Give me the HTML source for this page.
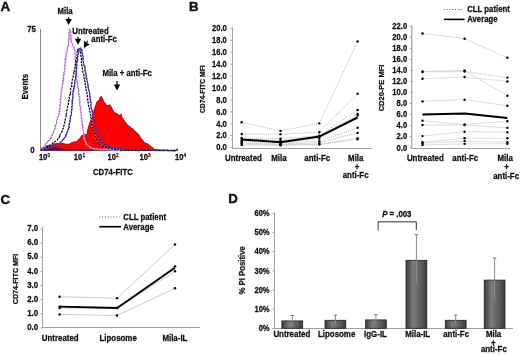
<!DOCTYPE html>
<html><head><meta charset="utf-8"><style>
html,body{margin:0;padding:0;background:#fff;}
svg{display:block;font-family:"Liberation Sans", sans-serif;will-change:transform;}
</style></head><body>
<svg width="520" height="355" viewBox="0 0 520 355">
<rect width="520" height="355" fill="#fff"/>
<text transform="translate(0.50,10.50) scale(1,1.0)" x="0" y="0" font-size="13.4" text-anchor="start" font-weight="bold" fill="#111" stroke="#111" stroke-width="0.25" style="stroke-width:0.45">A</text>
<line x1="40.50" y1="29.00" x2="40.50" y2="151.00" stroke="#8a8a8a" stroke-width="1" />
<text transform="translate(35.80,32.00) scale(1,1.1)" x="0" y="0" font-size="7.8" text-anchor="end" font-weight="bold" fill="#111" stroke="#111" stroke-width="0.25" >75</text>
<text transform="translate(34.50,153.00) scale(1,1.1)" x="0" y="0" font-size="7.8" text-anchor="end" font-weight="bold" fill="#111" stroke="#111" stroke-width="0.25" >0</text>
<text transform="translate(28.30,86.70) rotate(-90) scale(1,1.06)" x="0" y="0" font-size="7.8" text-anchor="middle" font-weight="bold" fill="#111" stroke="#111" stroke-width="0.25">Events</text>
<text transform="translate(38.90,159.70) scale(1,1.1)" x="0" y="0" font-size="7.6" text-anchor="start" font-weight="bold" fill="#111" stroke="#111" stroke-width="0.25" >10</text>
<text transform="translate(47.50,157.00) scale(1,1.1)" x="0" y="0" font-size="4.8" text-anchor="start" font-weight="normal" fill="#111" stroke="#111" stroke-width="0.25" >0</text>
<text transform="translate(73.80,159.70) scale(1,1.1)" x="0" y="0" font-size="7.6" text-anchor="start" font-weight="bold" fill="#111" stroke="#111" stroke-width="0.25" >10</text>
<text transform="translate(82.40,157.00) scale(1,1.1)" x="0" y="0" font-size="4.8" text-anchor="start" font-weight="normal" fill="#111" stroke="#111" stroke-width="0.25" >1</text>
<text transform="translate(107.50,159.70) scale(1,1.1)" x="0" y="0" font-size="7.6" text-anchor="start" font-weight="bold" fill="#111" stroke="#111" stroke-width="0.25" >10</text>
<text transform="translate(116.10,157.00) scale(1,1.1)" x="0" y="0" font-size="4.8" text-anchor="start" font-weight="normal" fill="#111" stroke="#111" stroke-width="0.25" >2</text>
<text transform="translate(139.50,159.70) scale(1,1.1)" x="0" y="0" font-size="7.6" text-anchor="start" font-weight="bold" fill="#111" stroke="#111" stroke-width="0.25" >10</text>
<text transform="translate(148.10,157.00) scale(1,1.1)" x="0" y="0" font-size="4.8" text-anchor="start" font-weight="normal" fill="#111" stroke="#111" stroke-width="0.25" >3</text>
<text transform="translate(175.00,159.70) scale(1,1.1)" x="0" y="0" font-size="7.6" text-anchor="start" font-weight="bold" fill="#111" stroke="#111" stroke-width="0.25" >10</text>
<text transform="translate(183.60,157.00) scale(1,1.1)" x="0" y="0" font-size="4.8" text-anchor="start" font-weight="normal" fill="#111" stroke="#111" stroke-width="0.25" >4</text>
<text transform="translate(93.00,174.50) scale(1,1.1)" x="0" y="0" font-size="7.8" text-anchor="start" font-weight="bold" fill="#111" stroke="#111" stroke-width="0.25" >CD74-FITC</text>
<path d="M40.6,150.8 L40.34,150.74 L41.06,149.79 L41.16,149.38 L41.55,149.08 L41.44,148.01 L42.24,147.75 L42.76,147.17 L43.10,147.38 L43.52,147.25 L44.57,146.33 L44.52,146.40 L45.74,146.00 L45.80,145.75 L46.34,145.44 L47.29,145.46 L47.81,145.11 L48.47,145.11 L49.19,144.63 L50.24,144.84 L50.75,144.41 L51.64,144.70 L51.68,144.16 L52.76,144.25 L53.56,143.87 L54.13,143.87 L54.41,143.64 L55.47,143.64 L55.80,143.49 L56.07,143.27 L57.21,143.42 L57.37,143.53 L58.34,143.65 L58.71,143.51 L59.41,143.77 L60.01,143.53 L60.69,143.17 L61.08,143.54 L62.44,143.37 L62.73,142.97 L63.53,143.80 L64.46,143.76 L65.25,143.81 L65.73,144.39 L66.50,144.12 L67.01,144.26 L68.22,143.95 L68.80,144.26 L69.57,143.94 L70.22,143.51 L70.64,143.21 L70.89,143.28 L71.85,142.57 L72.40,142.53 L72.90,142.19 L73.63,142.23 L74.28,141.95 L74.47,141.63 L75.17,141.72 L76.25,141.71 L76.87,141.35 L77.16,141.01 L78.12,140.11 L78.16,139.59 L79.18,139.27 L79.23,139.06 L79.89,138.20 L80.08,138.00 L80.40,137.31 L81.10,136.92 L81.14,136.41 L81.25,135.84 L81.84,135.18 L82.26,135.45 L83.17,134.73 L83.87,134.92 L84.08,134.24 L84.79,134.61 L85.42,134.48 L86.40,134.25 L86.70,134.43 L87.23,133.45 L86.96,132.88 L87.20,132.17 L87.27,131.54 L87.22,130.65 L87.98,130.39 L87.64,129.71 L87.77,129.11 L88.25,128.11 L88.09,127.19 L88.72,126.58 L88.86,126.59 L88.87,125.40 L89.26,125.33 L89.36,124.43 L89.34,123.75 L89.44,123.41 L89.81,122.50 L89.79,122.26 L90.14,121.57 L90.38,121.26 L91.01,120.09 L90.75,119.74 L91.53,119.48 L91.30,118.51 L91.76,118.38 L92.17,117.46 L92.37,117.13 L92.26,116.71 L92.26,115.91 L92.33,114.89 L93.09,114.30 L93.16,113.95 L93.39,113.16 L93.21,112.48 L93.76,112.07 L94.01,111.65 L93.62,110.79 L93.79,109.80 L93.95,109.76 L94.64,109.10 L94.51,108.33 L95.01,107.54 L95.05,106.81 L94.92,106.25 L95.71,105.88 L95.95,105.22 L95.71,104.87 L96.31,103.74 L96.42,103.21 L96.33,103.24 L96.58,102.27 L97.54,101.87 L97.23,101.17 L97.79,101.10 L98.17,100.74 L98.84,100.30 L99.69,99.36 L99.59,98.82 L99.85,98.27 L100.18,97.16 L101.24,96.76 L101.37,96.26 L101.47,96.73 L102.19,98.10 L102.53,98.23 L102.33,99.12 L103.20,99.60 L103.33,100.21 L103.36,100.78 L103.72,101.22 L103.88,101.90 L104.84,102.66 L104.99,103.30 L105.57,103.62 L105.50,104.08 L105.89,104.94 L106.68,105.06 L106.93,105.53 L107.76,105.87 L108.17,105.31 L108.82,105.20 L109.64,104.75 L109.90,104.69 L110.32,105.44 L110.73,106.12 L110.76,106.50 L111.48,106.83 L111.86,107.52 L112.02,108.71 L112.33,108.87 L112.14,109.54 L113.03,109.92 L113.33,110.35 L113.65,110.81 L113.55,111.95 L114.21,112.49 L114.86,112.70 L115.38,112.62 L115.83,112.94 L116.65,113.62 L116.99,113.60 L118.16,114.52 L118.53,114.73 L119.41,115.10 L119.76,115.45 L120.33,115.67 L120.84,115.28 L121.02,114.36 L121.10,113.75 L121.09,114.53 L121.73,115.33 L121.58,116.18 L121.61,116.46 L122.16,117.31 L122.59,117.79 L122.96,118.50 L122.99,118.85 L123.50,119.18 L123.80,119.93 L124.48,120.69 L124.40,121.02 L124.60,121.14 L125.29,122.22 L125.40,122.67 L126.27,122.87 L126.53,123.74 L126.71,124.14 L127.37,124.57 L127.85,125.28 L128.32,125.55 L128.32,125.68 L128.89,126.26 L129.81,126.26 L130.30,127.08 L130.61,127.30 L131.02,127.80 L131.48,128.34 L132.49,128.56 L132.59,129.24 L133.55,129.17 L133.89,130.14 L134.29,130.52 L134.61,131.15 L135.45,131.24 L135.81,131.75 L135.88,132.11 L136.37,132.95 L137.47,132.83 L137.74,133.47 L137.92,133.82 L138.52,134.57 L138.68,134.76 L139.31,135.21 L139.76,136.20 L140.23,136.49 L140.25,137.29 L140.64,137.88 L141.03,138.51 L141.80,139.16 L142.33,139.53 L142.45,140.23 L143.11,140.51 L143.30,140.79 L143.57,141.64 L144.03,142.07 L144.88,142.63 L145.58,143.03 L145.70,143.10 L146.55,143.37 L147.05,143.65 L147.62,143.65 L148.11,144.21 L148.56,144.43 L149.36,145.03 L149.61,145.40 L149.99,145.49 L150.19,145.94 L151.07,146.77 L151.73,146.88 L152.34,147.22 L152.73,147.56 L153.17,148.34 L153.36,148.27 L154.08,149.02 L154.40,149.15 L154.92,149.95 L156.00,150.50 L156,150.8 Z" fill="#ff0000" stroke="none"/>
<polyline points="52.76,144.25 53.56,143.87 54.13,143.87 54.41,143.64 55.47,143.64 55.80,143.49 56.07,143.27 57.21,143.42 57.37,143.53 58.34,143.65 58.71,143.51 59.41,143.77 60.01,143.53 60.69,143.17 61.08,143.54 62.44,143.37 62.73,142.97 63.53,143.80 64.46,143.76 65.25,143.81 65.73,144.39 66.50,144.12 67.01,144.26 68.22,143.95 68.80,144.26 69.57,143.94 70.22,143.51 70.64,143.21 70.89,143.28 71.85,142.57 72.40,142.53 72.90,142.19 73.63,142.23 74.28,141.95 74.47,141.63 75.17,141.72 76.25,141.71 76.87,141.35 77.16,141.01 78.12,140.11 78.16,139.59 79.18,139.27 79.23,139.06 79.89,138.20 80.08,138.00 80.40,137.31 81.10,136.92 81.14,136.41 81.25,135.84 81.84,135.18 82.26,135.45 83.17,134.73 83.87,134.92 84.08,134.24 84.79,134.61 85.42,134.48 86.40,134.25 86.70,134.43 87.23,133.45 86.96,132.88 87.20,132.17 87.27,131.54 87.22,130.65 87.98,130.39 87.64,129.71 87.77,129.11 88.25,128.11 88.09,127.19 88.72,126.58 88.86,126.59 88.87,125.40 89.26,125.33 89.36,124.43 89.34,123.75 89.44,123.41 89.81,122.50 89.79,122.26 90.14,121.57 90.38,121.26 91.01,120.09 90.75,119.74 91.53,119.48 91.30,118.51 91.76,118.38 92.17,117.46 92.37,117.13 92.26,116.71 92.26,115.91 92.33,114.89 93.09,114.30 93.16,113.95 93.39,113.16 93.21,112.48 93.76,112.07 94.01,111.65 93.62,110.79 93.79,109.80 93.95,109.76 94.64,109.10 94.51,108.33 95.01,107.54 95.05,106.81 94.92,106.25 95.71,105.88 95.95,105.22 95.71,104.87 96.31,103.74 96.42,103.21 96.33,103.24 96.58,102.27 97.54,101.87 97.23,101.17 97.79,101.10 98.17,100.74 98.84,100.30 99.69,99.36 99.59,98.82 99.85,98.27 100.18,97.16 101.24,96.76 101.37,96.26 101.47,96.73 102.19,98.10 102.53,98.23 102.33,99.12 103.20,99.60 103.33,100.21 103.36,100.78 103.72,101.22 103.88,101.90 104.84,102.66 104.99,103.30 105.57,103.62 105.50,104.08 105.89,104.94 106.68,105.06 106.93,105.53 107.76,105.87 108.17,105.31 108.82,105.20 109.64,104.75 109.90,104.69 110.32,105.44 110.73,106.12 110.76,106.50 111.48,106.83 111.86,107.52 112.02,108.71 112.33,108.87 112.14,109.54 113.03,109.92 113.33,110.35 113.65,110.81 113.55,111.95 114.21,112.49 114.86,112.70 115.38,112.62 115.83,112.94 116.65,113.62 116.99,113.60 118.16,114.52 118.53,114.73 119.41,115.10 119.76,115.45 120.33,115.67 120.84,115.28 121.02,114.36 121.10,113.75 121.09,114.53 121.73,115.33 121.58,116.18 121.61,116.46 122.16,117.31 122.59,117.79 122.96,118.50 122.99,118.85 123.50,119.18 123.80,119.93 124.48,120.69 124.40,121.02 124.60,121.14 125.29,122.22 125.40,122.67 126.27,122.87 126.53,123.74 126.71,124.14 127.37,124.57 127.85,125.28 128.32,125.55 128.32,125.68 128.89,126.26 129.81,126.26 130.30,127.08 130.61,127.30 131.02,127.80 131.48,128.34 132.49,128.56 132.59,129.24 133.55,129.17 133.89,130.14 134.29,130.52 134.61,131.15 135.45,131.24 135.81,131.75 135.88,132.11 136.37,132.95 137.47,132.83 137.74,133.47 137.92,133.82 138.52,134.57 138.68,134.76 139.31,135.21 139.76,136.20 140.23,136.49 140.25,137.29 140.64,137.88 141.03,138.51 141.80,139.16 142.33,139.53 142.45,140.23 143.11,140.51 143.30,140.79 143.57,141.64 144.03,142.07 144.88,142.63 145.58,143.03 145.70,143.10 146.55,143.37 147.05,143.65 147.62,143.65 148.11,144.21 148.56,144.43 149.36,145.03 149.61,145.40 149.99,145.49 150.19,145.94 151.07,146.77 151.73,146.88 152.34,147.22 152.73,147.56 153.17,148.34 153.36,148.27 154.08,149.02 154.40,149.15 154.92,149.95 156.00,150.50" stroke="#500000" stroke-width="0.7" fill="none" />
<path d="M40.5,150.8 L41.5,148 L44,146.6 L47,145.8 L50,145.6 L53,146.2 L56,147 L60,148.2 L66,149 L75,149.3 L90,149.6 L120,150 L150,150.2 L150,150.8 Z" fill="#3a1050" opacity="0.85"/>
<polyline points="42.36,150.66 42.02,149.37 43.01,149.29 43.25,148.35 43.56,147.99 43.91,147.03 44.16,146.61 44.77,146.50 45.32,145.54 45.29,144.71 45.33,143.92 46.14,143.57 46.53,143.45 47.11,142.60 47.34,141.59 47.88,141.10 48.49,141.21 49.09,139.97 49.72,139.88 50.06,139.39 50.55,138.71 50.68,138.28 51.46,136.94 51.59,136.70 51.65,135.87 51.96,135.50 52.26,134.74 52.44,134.10 53.17,133.08 53.19,132.76 53.61,131.73 53.50,130.91 54.18,130.10 54.63,129.50 54.93,128.85 55.17,128.45 55.00,127.59 55.32,126.93 55.25,125.92 55.61,125.78 55.90,124.39 56.26,124.19 56.53,123.05 56.60,122.23 56.72,121.69 56.58,121.46 56.69,120.47 57.48,119.53 57.17,119.33 57.54,118.49 57.43,117.49 57.89,117.09 58.17,116.66 58.47,115.83 58.82,114.80 59.51,114.03 59.07,113.75 59.30,112.53 59.85,111.92 59.15,111.38 59.67,110.99 59.34,109.97 59.33,109.36 59.99,108.89 60.16,108.20 60.19,107.46 59.95,106.38 60.17,105.74 59.79,105.14 60.48,104.18 60.32,103.69 60.33,102.79 60.76,102.17 60.54,101.60 60.14,101.00 60.31,99.90 60.30,99.27 60.42,98.95 60.82,98.52 61.23,97.83 60.74,96.68 60.82,96.09 61.19,95.56 61.33,94.42 61.17,93.93 60.90,92.83 61.33,92.18 61.69,91.58 61.29,90.83 61.51,90.15 61.84,89.65 61.78,89.08 61.80,88.59 62.51,87.74 62.19,86.86 62.41,85.79 62.39,85.47 62.30,84.42 62.91,83.93 62.79,83.67 62.96,82.46 63.37,81.82 62.70,81.36 62.87,80.35 63.57,79.94 63.01,79.06 63.41,78.39 63.34,77.77 63.31,76.83 63.64,76.65 63.48,75.80 63.66,74.96 63.91,74.17 64.28,73.42 63.86,72.50 63.91,72.38 64.44,71.77 64.57,70.32 64.63,70.22 64.72,69.28 64.47,68.54 64.87,67.67 64.69,67.12 65.08,66.67 65.10,65.98 64.64,64.79 64.94,63.81 65.04,63.14 65.53,62.34 65.55,61.22 65.28,61.22 65.22,60.02 65.25,59.03 66.02,59.03 65.92,57.61 65.74,56.97 66.14,56.60 66.05,55.75 65.89,55.03 66.69,54.44 66.14,53.48 66.77,52.51 67.05,51.90 67.03,51.09 67.40,50.63 67.23,49.38 67.29,48.56 67.58,48.51 67.41,47.47 67.82,46.66 68.17,46.35 68.26,45.23 68.57,44.36 68.50,43.88 68.61,43.28 68.28,42.35 68.52,41.63 69.08,40.86 68.41,39.97 69.01,39.61 69.00,38.85 68.53,38.25 69.14,37.29 69.32,36.81 68.72,36.05 69.29,34.86 69.32,34.47 68.91,33.94 68.91,33.09 69.25,32.08 69.45,31.52 69.26,31.20 69.26,29.70 70.59,30.37 70.76,31.04 70.66,31.71 70.58,32.13 70.75,32.67 70.45,33.99 70.56,34.73 71.09,35.19 71.04,36.23 71.25,36.49 70.74,37.48 71.04,38.19 70.74,39.19 71.56,39.82 71.27,40.62 71.25,41.80 71.39,42.42 71.77,43.13 72.35,43.56 72.52,44.54 72.62,45.74 73.12,46.18 73.77,46.71 74.11,47.71 74.19,48.78 74.57,49.30 74.35,49.69 74.63,50.39 74.66,51.67 74.69,52.25 74.95,52.68 74.95,53.23 75.12,54.08 75.15,54.97 75.57,56.25 75.25,56.81 75.67,57.26 75.02,57.89 75.12,58.94 75.29,59.38 75.65,59.99 75.68,61.01 75.38,61.86 75.35,62.60 75.84,63.00 75.73,64.12 75.85,64.72 76.04,65.63 76.02,66.42 75.73,66.90 76.09,67.42 75.92,67.99 76.42,68.85 76.09,70.01 75.91,70.79 75.92,70.76 76.15,71.75 76.66,72.89 76.59,73.26 76.46,73.82 76.75,74.67 76.36,75.59 76.31,76.06 76.98,76.61 76.41,77.42 76.55,78.31 76.60,78.97 76.70,79.60 77.10,80.38 77.01,81.43 76.87,81.64 77.61,82.57 77.65,83.04 77.55,84.31 77.51,84.95 77.83,85.36 78.25,86.06 77.93,86.95 77.91,87.83 78.24,88.34 78.30,89.36 78.77,89.95 78.44,90.31 78.60,90.72 78.38,92.19 78.50,92.84 79.04,93.53 78.63,93.75 79.28,94.22 78.79,95.20 78.92,95.74 79.39,96.40 79.70,97.55 79.03,98.45 79.25,98.83 79.58,99.26 79.60,99.90 79.43,101.29 80.00,101.68 79.96,102.67 79.59,103.06 79.66,103.47 79.71,104.25 79.73,104.96 80.06,105.99 80.52,106.92 80.47,107.31 80.73,107.93 80.18,109.35 80.70,109.77 80.60,110.55 80.74,111.37 80.82,112.38 81.25,112.91 81.08,113.40 81.41,114.68 81.08,115.16 81.56,115.99 81.12,116.77 81.36,117.36 81.74,118.43 81.85,119.22 81.99,119.72 81.54,120.67 82.23,121.43 82.13,121.51 81.88,122.27 82.31,123.34 82.02,124.38 82.73,125.04 82.40,125.27 82.27,126.41 82.74,126.68 82.97,127.63 82.66,128.22 82.98,128.96 83.04,129.43 83.19,130.28 83.47,130.97 83.12,131.96 83.28,132.69 83.82,133.16 83.81,134.29 83.94,134.82 83.78,135.48 83.91,136.14 83.80,137.05 83.91,137.78 84.33,138.38 84.12,139.35 84.79,139.78 84.95,140.84 85.52,141.57 85.42,141.91 86.20,142.70 85.90,143.87 86.40,144.14 86.86,144.80 87.78,145.37 88.15,145.94 89.07,146.11 89.46,146.71 89.72,147.59 90.70,147.39 91.67,148.31 92.52,148.22 93.44,148.79 93.72,148.54 95.12,149.14 95.26,149.06 96.55,149.07 97.16,149.12 97.54,148.97 98.15,149.43 98.96,149.50 99.91,149.45 101.09,149.43 101.41,149.44 101.91,149.34 102.88,149.83 103.24,149.95 104.43,149.26 105.17,149.55 105.73,149.33 106.44,149.69 107.37,149.76 108.02,149.90 108.35,149.35 109.27,149.45 109.71,149.62 110.74,149.88 111.55,150.16 111.82,149.87 112.53,149.98 113.52,149.57 114.13,150.01 114.98,150.26 115.60,149.79 116.77,150.02 116.83,150.18 117.75,150.33 118.68,150.24 119.60,150.02 120.37,149.65 120.59,150.32 121.04,150.21 122.54,150.26 123.15,149.77 123.60,150.22 124.23,150.08 125.23,149.90 125.35,150.26 126.80,150.47 127.28,150.06 128.18,149.88 128.37,150.49 129.60,150.20 130.00,150.30" stroke="#d49adc" stroke-width="1.4" fill="none" />
<polyline points="42.36,150.66 42.02,149.37 43.01,149.29 43.25,148.35 43.56,147.99 43.91,147.03 44.16,146.61 44.77,146.50 45.32,145.54 45.29,144.71 45.33,143.92 46.14,143.57 46.53,143.45 47.11,142.60 47.34,141.59 47.88,141.10 48.49,141.21 49.09,139.97 49.72,139.88 50.06,139.39 50.55,138.71 50.68,138.28 51.46,136.94 51.59,136.70 51.65,135.87 51.96,135.50 52.26,134.74 52.44,134.10 53.17,133.08 53.19,132.76 53.61,131.73 53.50,130.91 54.18,130.10 54.63,129.50 54.93,128.85 55.17,128.45 55.00,127.59 55.32,126.93 55.25,125.92 55.61,125.78 55.90,124.39 56.26,124.19 56.53,123.05 56.60,122.23 56.72,121.69 56.58,121.46 56.69,120.47 57.48,119.53 57.17,119.33 57.54,118.49 57.43,117.49 57.89,117.09 58.17,116.66 58.47,115.83 58.82,114.80 59.51,114.03 59.07,113.75 59.30,112.53 59.85,111.92 59.15,111.38 59.67,110.99 59.34,109.97 59.33,109.36 59.99,108.89 60.16,108.20 60.19,107.46 59.95,106.38 60.17,105.74 59.79,105.14 60.48,104.18 60.32,103.69 60.33,102.79 60.76,102.17 60.54,101.60 60.14,101.00 60.31,99.90 60.30,99.27 60.42,98.95 60.82,98.52 61.23,97.83 60.74,96.68 60.82,96.09 61.19,95.56 61.33,94.42 61.17,93.93 60.90,92.83 61.33,92.18 61.69,91.58 61.29,90.83 61.51,90.15 61.84,89.65 61.78,89.08 61.80,88.59 62.51,87.74 62.19,86.86 62.41,85.79 62.39,85.47 62.30,84.42 62.91,83.93 62.79,83.67 62.96,82.46 63.37,81.82 62.70,81.36 62.87,80.35 63.57,79.94 63.01,79.06 63.41,78.39 63.34,77.77 63.31,76.83 63.64,76.65 63.48,75.80 63.66,74.96 63.91,74.17 64.28,73.42 63.86,72.50 63.91,72.38 64.44,71.77 64.57,70.32 64.63,70.22 64.72,69.28 64.47,68.54 64.87,67.67 64.69,67.12 65.08,66.67 65.10,65.98 64.64,64.79 64.94,63.81 65.04,63.14 65.53,62.34 65.55,61.22 65.28,61.22 65.22,60.02 65.25,59.03 66.02,59.03 65.92,57.61 65.74,56.97 66.14,56.60 66.05,55.75 65.89,55.03 66.69,54.44 66.14,53.48 66.77,52.51 67.05,51.90 67.03,51.09 67.40,50.63 67.23,49.38 67.29,48.56 67.58,48.51 67.41,47.47 67.82,46.66 68.17,46.35 68.26,45.23 68.57,44.36 68.50,43.88 68.61,43.28 68.28,42.35 68.52,41.63 69.08,40.86 68.41,39.97 69.01,39.61 69.00,38.85 68.53,38.25 69.14,37.29 69.32,36.81 68.72,36.05 69.29,34.86 69.32,34.47 68.91,33.94 68.91,33.09 69.25,32.08 69.45,31.52 69.26,31.20 69.26,29.70 70.59,30.37 70.76,31.04 70.66,31.71 70.58,32.13 70.75,32.67 70.45,33.99 70.56,34.73 71.09,35.19 71.04,36.23 71.25,36.49 70.74,37.48 71.04,38.19 70.74,39.19 71.56,39.82 71.27,40.62 71.25,41.80 71.39,42.42 71.77,43.13 72.35,43.56 72.52,44.54 72.62,45.74 73.12,46.18 73.77,46.71 74.11,47.71 74.19,48.78 74.57,49.30 74.35,49.69 74.63,50.39 74.66,51.67 74.69,52.25 74.95,52.68 74.95,53.23 75.12,54.08 75.15,54.97 75.57,56.25 75.25,56.81 75.67,57.26 75.02,57.89 75.12,58.94 75.29,59.38 75.65,59.99 75.68,61.01 75.38,61.86 75.35,62.60 75.84,63.00 75.73,64.12 75.85,64.72 76.04,65.63 76.02,66.42 75.73,66.90 76.09,67.42 75.92,67.99 76.42,68.85 76.09,70.01 75.91,70.79 75.92,70.76 76.15,71.75 76.66,72.89 76.59,73.26 76.46,73.82 76.75,74.67 76.36,75.59 76.31,76.06 76.98,76.61 76.41,77.42 76.55,78.31 76.60,78.97 76.70,79.60 77.10,80.38 77.01,81.43 76.87,81.64 77.61,82.57 77.65,83.04 77.55,84.31 77.51,84.95 77.83,85.36 78.25,86.06 77.93,86.95 77.91,87.83 78.24,88.34 78.30,89.36 78.77,89.95 78.44,90.31 78.60,90.72 78.38,92.19 78.50,92.84 79.04,93.53 78.63,93.75 79.28,94.22 78.79,95.20 78.92,95.74 79.39,96.40 79.70,97.55 79.03,98.45 79.25,98.83 79.58,99.26 79.60,99.90 79.43,101.29 80.00,101.68 79.96,102.67 79.59,103.06 79.66,103.47 79.71,104.25 79.73,104.96 80.06,105.99 80.52,106.92 80.47,107.31 80.73,107.93 80.18,109.35 80.70,109.77 80.60,110.55 80.74,111.37 80.82,112.38 81.25,112.91 81.08,113.40 81.41,114.68 81.08,115.16 81.56,115.99 81.12,116.77 81.36,117.36 81.74,118.43 81.85,119.22 81.99,119.72 81.54,120.67 82.23,121.43 82.13,121.51 81.88,122.27 82.31,123.34 82.02,124.38 82.73,125.04 82.40,125.27 82.27,126.41 82.74,126.68 82.97,127.63 82.66,128.22 82.98,128.96 83.04,129.43 83.19,130.28 83.47,130.97 83.12,131.96 83.28,132.69 83.82,133.16 83.81,134.29 83.94,134.82 83.78,135.48 83.91,136.14 83.80,137.05 83.91,137.78 84.33,138.38 84.12,139.35 84.79,139.78 84.95,140.84 85.52,141.57 85.42,141.91 86.20,142.70 85.90,143.87 86.40,144.14 86.86,144.80 87.78,145.37 88.15,145.94 89.07,146.11 89.46,146.71 89.72,147.59 90.70,147.39 91.67,148.31 92.52,148.22 93.44,148.79 93.72,148.54 95.12,149.14 95.26,149.06 96.55,149.07 97.16,149.12 97.54,148.97 98.15,149.43 98.96,149.50 99.91,149.45 101.09,149.43 101.41,149.44 101.91,149.34 102.88,149.83 103.24,149.95 104.43,149.26 105.17,149.55 105.73,149.33 106.44,149.69 107.37,149.76 108.02,149.90 108.35,149.35 109.27,149.45 109.71,149.62 110.74,149.88 111.55,150.16 111.82,149.87 112.53,149.98 113.52,149.57 114.13,150.01 114.98,150.26 115.60,149.79 116.77,150.02 116.83,150.18 117.75,150.33 118.68,150.24 119.60,150.02 120.37,149.65 120.59,150.32 121.04,150.21 122.54,150.26 123.15,149.77 123.60,150.22 124.23,150.08 125.23,149.90 125.35,150.26 126.80,150.47 127.28,150.06 128.18,149.88 128.37,150.49 129.60,150.20 130.00,150.30" stroke="#a030b0" stroke-width="0.9" fill="none" stroke-dasharray="1.2,2.2"/>
<polyline points="40.79,150.34 41.56,150.00 42.43,149.19 42.61,149.42 43.47,148.55 44.73,148.36 45.27,147.98 45.75,147.35 46.39,147.55 46.94,147.08 47.70,146.17 48.41,146.22 48.68,145.40 49.77,145.39 50.30,145.34 50.93,145.01 51.32,144.54 51.93,144.24 52.85,143.15 52.83,142.84 54.07,142.60 54.38,142.08 54.86,141.73 55.31,141.48 56.07,141.32 56.71,140.72 57.41,140.15 57.82,138.87 58.53,138.89 59.12,137.96 59.27,137.03 59.67,136.69 59.53,135.64 60.28,135.75 59.97,134.96 60.53,133.81 60.74,133.67 61.50,132.45 61.59,131.81 61.97,131.41 62.40,131.29 62.40,130.67 62.55,129.30 63.08,128.63 62.93,128.21 63.43,127.30 63.14,127.16 63.53,126.52 64.16,125.34 63.98,124.74 64.30,124.09 64.40,123.40 64.87,122.59 64.63,122.05 64.65,121.00 65.41,120.47 65.23,119.35 65.29,119.09 65.15,118.41 65.81,117.25 65.92,116.88 66.08,116.10 66.22,115.72 65.79,114.48 66.43,114.52 66.21,113.42 66.60,112.62 66.54,111.92 66.66,111.46 66.72,110.59 67.22,109.62 67.26,109.29 67.25,107.98 67.84,107.09 67.48,106.54 68.02,105.57 67.85,105.05 68.39,104.43 68.53,103.51 68.25,103.19 68.82,102.33 68.42,101.36 68.79,100.71 69.15,100.52 68.78,99.37 69.41,98.95 69.54,98.01 69.12,97.26 69.79,96.54 69.56,95.95 69.75,95.24 70.28,94.33 69.67,94.26 70.50,93.59 70.26,92.86 70.77,91.57 70.74,91.35 70.79,90.40 70.61,89.55 70.67,88.62 71.08,88.09 71.37,87.20 71.56,87.01 71.69,86.47 71.78,85.51 71.19,84.94 71.43,83.87 71.94,83.35 71.86,82.98 72.13,81.79 71.96,81.50 72.25,80.74 72.27,79.56 72.53,79.35 72.39,78.65 73.15,77.98 73.23,76.66 73.23,76.66 72.92,75.50 73.25,75.02 73.53,74.29 73.97,73.23 73.54,72.65 73.76,71.92 74.59,71.87 74.04,70.90 74.37,70.07 74.56,69.65 74.90,68.74 74.74,68.03 74.84,67.53 75.47,66.70 74.91,65.64 75.10,65.08 75.53,64.21 75.66,63.72 75.47,62.82 75.63,62.40 75.68,61.70 75.82,60.65 75.99,60.31 75.72,59.41 76.12,59.08 76.63,57.98 76.71,57.62 76.31,56.67 76.35,56.23 76.93,55.57 77.18,54.67 77.29,53.87 76.93,53.17 77.00,52.09 77.77,51.30 77.37,50.62 78.15,49.96 77.62,49.77 78.30,49.03 79.34,48.27 79.89,48.69 80.09,48.88 80.39,49.88 80.67,50.19 80.76,51.57 80.28,51.81 80.75,52.94 80.55,53.14 80.62,54.22 81.09,54.76 80.85,55.49 80.90,56.23 80.75,57.03 81.53,57.68 81.41,58.20 81.43,59.40 81.48,59.94 81.40,60.76 81.79,61.09 81.22,62.30 81.94,62.84 81.62,63.73 81.48,64.09 81.56,65.07 81.79,65.49 82.22,66.77 82.04,67.28 82.27,68.10 82.54,68.34 82.38,68.85 82.73,69.84 82.62,70.53 82.87,71.56 82.86,72.44 83.27,72.83 83.39,73.73 83.81,74.21 83.68,75.05 84.11,75.50 84.15,76.65 84.07,76.77 84.02,77.86 84.51,78.76 84.78,78.89 84.37,79.61 84.49,80.67 85.15,81.53 84.78,82.21 84.95,82.56 85.40,83.00 85.01,84.30 85.29,84.63 85.64,85.59 85.31,86.02 85.77,86.84 85.71,87.63 86.42,88.18 86.22,88.67 86.12,89.81 86.11,90.69 86.87,90.76 87.01,91.69 87.00,92.70 86.74,93.34 87.11,94.15 86.89,94.81 87.54,95.45 87.29,95.71 87.35,96.61 87.61,97.57 87.58,97.88 87.74,98.94 87.45,99.86 87.92,99.95 88.24,100.67 87.85,101.84 88.15,102.41 88.28,103.04 88.10,103.52 87.99,104.65 88.63,105.22 88.71,105.78 88.42,106.50 89.00,106.93 89.05,107.77 89.62,108.53 89.62,109.25 90.13,110.22 90.04,110.99 89.90,111.24 89.95,111.83 90.55,113.04 90.13,113.32 90.38,114.48 90.75,115.20 90.68,115.43 90.63,116.18 90.84,117.20 90.69,117.66 91.26,118.20 91.39,119.60 91.61,119.91 91.40,120.78 91.57,121.81 91.72,121.98 91.97,122.84 91.87,123.75 91.49,124.50 92.13,124.99 92.22,125.65 92.15,126.38 92.23,127.04 92.92,127.67 93.05,128.76 93.51,128.78 93.63,129.85 93.24,130.32 93.59,130.77 94.03,132.13 94.06,132.76 94.56,132.85 94.89,133.91 95.14,134.68 95.19,135.06 95.45,136.21 95.69,136.49 95.81,137.21 95.49,137.53 95.78,138.39 96.16,139.35 96.90,140.12 96.99,140.93 97.22,141.51 97.89,142.19 97.74,143.32 98.75,143.39 99.04,144.02 99.79,144.28 99.89,144.77 101.08,145.21 101.40,145.76 101.77,146.24 102.59,146.46 102.96,146.63 103.73,147.16 104.31,147.01 105.29,147.54 106.16,147.47 106.59,147.97 106.95,148.65 107.78,148.18 108.69,148.31 109.51,148.53 109.82,148.37 111.01,148.63 111.76,148.85 112.58,148.80 112.74,148.85 113.90,149.22 114.23,148.86 115.20,149.64 115.84,148.94 116.09,149.09 116.91,149.12 117.53,149.69 118.91,149.41 119.67,149.71 120.24,150.13 121.06,149.44 121.25,149.90 122.47,149.50 122.65,150.11 123.21,149.76 124.09,150.00 125.27,149.60 125.82,150.06 126.60,149.92 127.38,149.78 127.67,149.68 128.67,149.89 128.96,149.65 130.03,150.01 130.72,149.84 131.25,149.66 132.13,149.57 132.64,150.16 133.51,149.64 133.86,150.25 134.89,150.28 135.78,149.95 136.50,150.19 136.76,149.90 137.25,149.94 138.66,149.71 139.06,149.72 139.37,150.16 140.20,149.69 140.83,150.17 141.88,149.68 142.30,150.45 143.00,150.14 143.86,150.32 144.71,150.33 145.36,149.86 145.78,149.78 147.00,149.82 147.06,150.51 147.91,150.46 148.52,150.13 149.33,150.43 150.35,150.29 151.17,150.48 151.54,150.27 152.33,149.89 153.34,150.28 154.03,149.98 154.51,150.19 155.37,149.89 155.77,150.23 156.25,150.29 157.48,150.20 158.12,150.35 158.48,150.16 159.80,150.15 160.06,149.96 160.59,150.03 161.86,150.49 162.52,150.71 163.02,150.67 163.66,150.27 164.69,150.67 165.40,150.34 165.96,150.29 166.84,150.71 166.98,150.73 167.60,150.06 168.73,150.23 169.27,150.52 169.60,150.61 170.49,150.37 171.25,150.62 172.27,150.27 172.46,150.29 173.41,150.12 173.91,150.68 175.05,150.86 175.98,150.78 176.19,150.22 177.00,150.50" stroke="#aaa" stroke-width="1.0" fill="none" />
<polyline points="40.79,150.34 41.56,150.00 42.43,149.19 42.61,149.42 43.47,148.55 44.73,148.36 45.27,147.98 45.75,147.35 46.39,147.55 46.94,147.08 47.70,146.17 48.41,146.22 48.68,145.40 49.77,145.39 50.30,145.34 50.93,145.01 51.32,144.54 51.93,144.24 52.85,143.15 52.83,142.84 54.07,142.60 54.38,142.08 54.86,141.73 55.31,141.48 56.07,141.32 56.71,140.72 57.41,140.15 57.82,138.87 58.53,138.89 59.12,137.96 59.27,137.03 59.67,136.69 59.53,135.64 60.28,135.75 59.97,134.96 60.53,133.81 60.74,133.67 61.50,132.45 61.59,131.81 61.97,131.41 62.40,131.29 62.40,130.67 62.55,129.30 63.08,128.63 62.93,128.21 63.43,127.30 63.14,127.16 63.53,126.52 64.16,125.34 63.98,124.74 64.30,124.09 64.40,123.40 64.87,122.59 64.63,122.05 64.65,121.00 65.41,120.47 65.23,119.35 65.29,119.09 65.15,118.41 65.81,117.25 65.92,116.88 66.08,116.10 66.22,115.72 65.79,114.48 66.43,114.52 66.21,113.42 66.60,112.62 66.54,111.92 66.66,111.46 66.72,110.59 67.22,109.62 67.26,109.29 67.25,107.98 67.84,107.09 67.48,106.54 68.02,105.57 67.85,105.05 68.39,104.43 68.53,103.51 68.25,103.19 68.82,102.33 68.42,101.36 68.79,100.71 69.15,100.52 68.78,99.37 69.41,98.95 69.54,98.01 69.12,97.26 69.79,96.54 69.56,95.95 69.75,95.24 70.28,94.33 69.67,94.26 70.50,93.59 70.26,92.86 70.77,91.57 70.74,91.35 70.79,90.40 70.61,89.55 70.67,88.62 71.08,88.09 71.37,87.20 71.56,87.01 71.69,86.47 71.78,85.51 71.19,84.94 71.43,83.87 71.94,83.35 71.86,82.98 72.13,81.79 71.96,81.50 72.25,80.74 72.27,79.56 72.53,79.35 72.39,78.65 73.15,77.98 73.23,76.66 73.23,76.66 72.92,75.50 73.25,75.02 73.53,74.29 73.97,73.23 73.54,72.65 73.76,71.92 74.59,71.87 74.04,70.90 74.37,70.07 74.56,69.65 74.90,68.74 74.74,68.03 74.84,67.53 75.47,66.70 74.91,65.64 75.10,65.08 75.53,64.21 75.66,63.72 75.47,62.82 75.63,62.40 75.68,61.70 75.82,60.65 75.99,60.31 75.72,59.41 76.12,59.08 76.63,57.98 76.71,57.62 76.31,56.67 76.35,56.23 76.93,55.57 77.18,54.67 77.29,53.87 76.93,53.17 77.00,52.09 77.77,51.30 77.37,50.62 78.15,49.96 77.62,49.77 78.30,49.03 79.34,48.27 79.89,48.69 80.09,48.88 80.39,49.88 80.67,50.19 80.76,51.57 80.28,51.81 80.75,52.94 80.55,53.14 80.62,54.22 81.09,54.76 80.85,55.49 80.90,56.23 80.75,57.03 81.53,57.68 81.41,58.20 81.43,59.40 81.48,59.94 81.40,60.76 81.79,61.09 81.22,62.30 81.94,62.84 81.62,63.73 81.48,64.09 81.56,65.07 81.79,65.49 82.22,66.77 82.04,67.28 82.27,68.10 82.54,68.34 82.38,68.85 82.73,69.84 82.62,70.53 82.87,71.56 82.86,72.44 83.27,72.83 83.39,73.73 83.81,74.21 83.68,75.05 84.11,75.50 84.15,76.65 84.07,76.77 84.02,77.86 84.51,78.76 84.78,78.89 84.37,79.61 84.49,80.67 85.15,81.53 84.78,82.21 84.95,82.56 85.40,83.00 85.01,84.30 85.29,84.63 85.64,85.59 85.31,86.02 85.77,86.84 85.71,87.63 86.42,88.18 86.22,88.67 86.12,89.81 86.11,90.69 86.87,90.76 87.01,91.69 87.00,92.70 86.74,93.34 87.11,94.15 86.89,94.81 87.54,95.45 87.29,95.71 87.35,96.61 87.61,97.57 87.58,97.88 87.74,98.94 87.45,99.86 87.92,99.95 88.24,100.67 87.85,101.84 88.15,102.41 88.28,103.04 88.10,103.52 87.99,104.65 88.63,105.22 88.71,105.78 88.42,106.50 89.00,106.93 89.05,107.77 89.62,108.53 89.62,109.25 90.13,110.22 90.04,110.99 89.90,111.24 89.95,111.83 90.55,113.04 90.13,113.32 90.38,114.48 90.75,115.20 90.68,115.43 90.63,116.18 90.84,117.20 90.69,117.66 91.26,118.20 91.39,119.60 91.61,119.91 91.40,120.78 91.57,121.81 91.72,121.98 91.97,122.84 91.87,123.75 91.49,124.50 92.13,124.99 92.22,125.65 92.15,126.38 92.23,127.04 92.92,127.67 93.05,128.76 93.51,128.78 93.63,129.85 93.24,130.32 93.59,130.77 94.03,132.13 94.06,132.76 94.56,132.85 94.89,133.91 95.14,134.68 95.19,135.06 95.45,136.21 95.69,136.49 95.81,137.21 95.49,137.53 95.78,138.39 96.16,139.35 96.90,140.12 96.99,140.93 97.22,141.51 97.89,142.19 97.74,143.32 98.75,143.39 99.04,144.02 99.79,144.28 99.89,144.77 101.08,145.21 101.40,145.76 101.77,146.24 102.59,146.46 102.96,146.63 103.73,147.16 104.31,147.01 105.29,147.54 106.16,147.47 106.59,147.97 106.95,148.65 107.78,148.18 108.69,148.31 109.51,148.53 109.82,148.37 111.01,148.63 111.76,148.85 112.58,148.80 112.74,148.85 113.90,149.22 114.23,148.86 115.20,149.64 115.84,148.94 116.09,149.09 116.91,149.12 117.53,149.69 118.91,149.41 119.67,149.71 120.24,150.13 121.06,149.44 121.25,149.90 122.47,149.50 122.65,150.11 123.21,149.76 124.09,150.00 125.27,149.60 125.82,150.06 126.60,149.92 127.38,149.78 127.67,149.68 128.67,149.89 128.96,149.65 130.03,150.01 130.72,149.84 131.25,149.66 132.13,149.57 132.64,150.16 133.51,149.64 133.86,150.25 134.89,150.28 135.78,149.95 136.50,150.19 136.76,149.90 137.25,149.94 138.66,149.71 139.06,149.72 139.37,150.16 140.20,149.69 140.83,150.17 141.88,149.68 142.30,150.45 143.00,150.14 143.86,150.32 144.71,150.33 145.36,149.86 145.78,149.78 147.00,149.82 147.06,150.51 147.91,150.46 148.52,150.13 149.33,150.43 150.35,150.29 151.17,150.48 151.54,150.27 152.33,149.89 153.34,150.28 154.03,149.98 154.51,150.19 155.37,149.89 155.77,150.23 156.25,150.29 157.48,150.20 158.12,150.35 158.48,150.16 159.80,150.15 160.06,149.96 160.59,150.03 161.86,150.49 162.52,150.71 163.02,150.67 163.66,150.27 164.69,150.67 165.40,150.34 165.96,150.29 166.84,150.71 166.98,150.73 167.60,150.06 168.73,150.23 169.27,150.52 169.60,150.61 170.49,150.37 171.25,150.62 172.27,150.27 172.46,150.29 173.41,150.12 173.91,150.68 175.05,150.86 175.98,150.78 176.19,150.22 177.00,150.50" stroke="#000" stroke-width="1.1" fill="none" stroke-dasharray="2,1.5"/>
<polyline points="40.79,149.98 41.63,149.77 42.08,149.71 43.48,149.77 44.07,149.05 44.60,148.84 45.02,148.44 45.77,148.84 47.01,148.56 47.74,147.88 48.10,148.04 49.19,148.03 50.05,147.23 50.58,147.51 51.25,146.93 51.98,146.67 53.06,147.01 53.47,146.27 54.47,146.20 55.16,146.14 55.58,145.50 56.36,145.23 56.73,144.84 57.82,144.21 57.78,144.24 58.54,143.74 59.26,143.16 60.25,142.61 60.36,142.19 61.11,141.82 61.43,141.61 61.94,140.88 62.95,139.92 62.82,139.44 63.93,139.16 64.05,138.35 64.54,137.87 64.73,137.37 65.70,136.89 65.86,136.21 65.58,134.99 66.63,134.70 66.48,134.15 66.94,133.36 66.97,132.18 67.39,131.45 67.63,131.42 67.88,129.98 67.94,129.42 68.83,128.89 68.56,127.97 69.24,127.51 68.74,126.51 68.74,125.88 69.37,125.16 68.98,124.72 69.27,124.41 69.30,123.32 69.94,122.51 70.24,121.86 69.77,121.09 69.73,120.39 70.02,120.05 70.61,119.02 70.10,118.12 70.39,117.37 70.49,117.14 70.51,115.72 71.24,115.37 71.39,114.48 71.42,113.92 71.43,113.24 71.30,111.95 71.17,111.82 71.82,111.10 71.47,110.13 71.91,109.21 71.99,108.22 71.92,107.45 71.67,106.93 72.28,105.55 72.34,105.55 72.15,104.12 72.39,103.48 72.50,103.20 71.83,102.10 72.35,101.72 72.49,101.30 72.12,99.85 72.74,99.16 72.76,98.53 72.76,98.36 72.87,97.47 72.93,96.49 72.82,95.88 73.05,95.53 72.77,94.63 72.47,93.53 72.98,93.19 73.32,92.58 72.86,91.68 73.49,91.10 73.01,90.65 73.79,89.34 73.68,88.87 74.00,88.11 73.69,87.55 74.40,86.53 73.84,86.25 74.58,85.45 74.35,85.03 74.75,83.69 74.96,83.09 74.62,82.89 74.84,82.16 74.76,81.51 74.89,80.23 75.27,79.68 75.43,79.42 75.64,78.00 75.39,77.73 75.60,77.16 75.67,75.94 75.55,75.85 75.71,75.08 76.28,74.27 76.10,73.55 75.88,73.09 76.07,72.38 76.01,71.64 76.47,70.73 76.26,69.65 76.60,69.12 76.58,68.23 76.19,67.54 76.84,66.86 76.98,66.31 76.79,65.59 76.90,64.67 76.79,64.63 76.69,63.69 76.88,62.70 76.70,61.76 77.52,61.69 77.47,60.96 77.66,59.73 77.44,59.28 77.50,58.92 77.72,58.23 77.28,57.26 77.80,56.62 77.82,55.98 77.64,55.34 77.89,54.39 78.45,53.79 78.15,52.72 78.33,52.35 79.03,51.87 78.72,50.79 79.22,50.00 79.06,49.10 79.05,48.83 80.05,48.39 80.39,48.16 81.03,48.26 81.02,49.65 82.19,50.34 82.02,50.59 81.74,51.30 81.98,52.58 82.65,53.20 82.19,53.51 82.44,54.83 82.46,55.44 83.01,55.99 83.37,56.51 83.06,57.18 82.77,57.83 82.99,58.66 82.83,60.11 83.06,60.78 83.43,61.41 83.44,62.34 83.67,62.91 83.46,63.65 83.63,64.29 83.50,64.72 84.21,65.59 84.02,65.93 85.10,66.60 84.82,67.67 85.30,68.11 85.03,68.91 84.85,70.00 84.94,70.79 85.16,70.87 85.82,72.12 85.43,72.63 85.73,73.49 85.61,74.30 86.36,74.92 86.41,75.83 86.08,76.48 86.55,77.00 86.07,77.75 86.82,78.22 86.72,79.42 86.82,79.43 86.99,80.31 87.31,81.34 87.01,82.24 87.40,82.50 87.71,83.64 87.89,84.34 87.85,84.90 87.94,85.47 88.39,86.03 87.81,87.03 88.28,87.60 88.50,88.06 88.32,88.63 88.93,90.00 89.00,90.07 89.36,91.35 89.13,91.39 89.54,92.59 89.50,92.81 89.69,93.53 89.59,94.33 89.60,95.63 90.02,96.27 89.76,96.64 90.11,97.06 90.06,98.51 90.44,99.13 90.18,99.70 90.68,100.41 90.50,100.69 90.27,101.97 91.11,102.19 91.07,103.00 91.08,104.05 90.94,104.58 90.99,105.19 90.91,105.70 91.22,106.93 91.21,107.51 91.31,108.39 91.51,108.37 91.68,109.75 92.18,110.41 92.18,110.49 92.19,111.46 92.85,111.93 92.39,113.17 92.42,113.98 92.70,114.35 93.13,115.33 92.80,115.99 93.03,116.60 93.05,117.36 93.32,117.62 93.34,118.43 93.72,119.67 94.09,119.89 94.53,120.45 94.06,121.79 94.79,122.29 94.95,122.50 95.04,123.73 94.99,124.56 94.68,124.76 94.92,125.70 95.47,126.46 95.53,127.34 96.13,128.06 95.70,128.29 96.06,129.08 96.56,129.76 96.81,130.59 96.82,131.60 97.50,131.90 97.24,133.24 97.34,133.19 97.54,134.55 98.19,135.35 98.33,135.30 98.51,136.51 98.91,136.71 99.23,137.64 99.55,138.29 99.71,138.62 100.56,139.85 100.60,140.03 100.84,141.05 101.82,141.49 102.38,142.02 102.24,142.59 103.08,143.08 103.68,143.12 103.95,144.24 104.21,144.13 104.75,144.83 105.65,145.15 106.51,145.34 106.98,146.04 107.84,146.57 108.85,146.31 109.07,146.83 109.94,146.99 110.89,147.16 111.28,147.40 112.31,148.08 113.11,147.80 113.61,148.24 113.81,148.51 115.19,148.00 115.96,148.64 116.42,148.54 116.87,148.23 117.76,148.96 118.27,148.73 119.05,148.99 120.31,149.23 120.50,148.93 120.99,149.11 122.39,149.44 122.49,149.20 123.22,149.27 124.61,149.24 125.28,149.86 125.96,149.28 126.74,149.87 127.51,149.15 127.41,149.39 128.53,149.51 128.89,149.69 130.05,149.70 130.63,149.65 131.48,149.27 131.98,149.34 132.41,149.86 133.29,149.53 133.96,149.75 134.53,149.80 135.20,150.07 135.97,149.93 136.98,149.67 137.49,149.63 138.56,149.78 139.08,149.57 139.86,149.52 140.45,149.92 141.20,149.88 141.92,149.58 142.93,149.98 143.45,150.22 143.93,149.73 144.52,149.73 145.22,149.74 145.85,149.89 146.62,149.81 147.62,149.78 148.48,150.18 148.75,150.23 149.34,149.65 150.69,149.61 150.60,150.29 151.30,150.14 152.45,149.81 152.90,150.41 153.73,149.85 154.47,150.25 155.05,149.75 156.15,149.77 156.27,149.71 157.72,150.07 158.22,150.18 159.11,150.02 159.31,150.31 159.74,150.07 161.05,150.25 161.53,150.55 162.19,150.40 162.86,149.90 163.56,150.01 163.97,150.09 164.76,150.24 165.95,150.49 166.77,150.15 167.30,150.62 167.78,150.66 168.25,150.67 169.58,150.74 170.24,150.53 170.62,150.55 171.68,150.45 172.18,150.74 172.61,150.29 173.11,150.73 174.29,150.58 174.68,150.21 175.58,150.77 176.18,150.42 177.00,150.50" stroke="#5050d8" stroke-width="1.2" fill="none" />
<polyline points="40.79,149.98 41.63,149.77 42.08,149.71 43.48,149.77 44.07,149.05 44.60,148.84 45.02,148.44 45.77,148.84 47.01,148.56 47.74,147.88 48.10,148.04 49.19,148.03 50.05,147.23 50.58,147.51 51.25,146.93 51.98,146.67 53.06,147.01 53.47,146.27 54.47,146.20 55.16,146.14 55.58,145.50 56.36,145.23 56.73,144.84 57.82,144.21 57.78,144.24 58.54,143.74 59.26,143.16 60.25,142.61 60.36,142.19 61.11,141.82 61.43,141.61 61.94,140.88 62.95,139.92 62.82,139.44 63.93,139.16 64.05,138.35 64.54,137.87 64.73,137.37 65.70,136.89 65.86,136.21 65.58,134.99 66.63,134.70 66.48,134.15 66.94,133.36 66.97,132.18 67.39,131.45 67.63,131.42 67.88,129.98 67.94,129.42 68.83,128.89 68.56,127.97 69.24,127.51 68.74,126.51 68.74,125.88 69.37,125.16 68.98,124.72 69.27,124.41 69.30,123.32 69.94,122.51 70.24,121.86 69.77,121.09 69.73,120.39 70.02,120.05 70.61,119.02 70.10,118.12 70.39,117.37 70.49,117.14 70.51,115.72 71.24,115.37 71.39,114.48 71.42,113.92 71.43,113.24 71.30,111.95 71.17,111.82 71.82,111.10 71.47,110.13 71.91,109.21 71.99,108.22 71.92,107.45 71.67,106.93 72.28,105.55 72.34,105.55 72.15,104.12 72.39,103.48 72.50,103.20 71.83,102.10 72.35,101.72 72.49,101.30 72.12,99.85 72.74,99.16 72.76,98.53 72.76,98.36 72.87,97.47 72.93,96.49 72.82,95.88 73.05,95.53 72.77,94.63 72.47,93.53 72.98,93.19 73.32,92.58 72.86,91.68 73.49,91.10 73.01,90.65 73.79,89.34 73.68,88.87 74.00,88.11 73.69,87.55 74.40,86.53 73.84,86.25 74.58,85.45 74.35,85.03 74.75,83.69 74.96,83.09 74.62,82.89 74.84,82.16 74.76,81.51 74.89,80.23 75.27,79.68 75.43,79.42 75.64,78.00 75.39,77.73 75.60,77.16 75.67,75.94 75.55,75.85 75.71,75.08 76.28,74.27 76.10,73.55 75.88,73.09 76.07,72.38 76.01,71.64 76.47,70.73 76.26,69.65 76.60,69.12 76.58,68.23 76.19,67.54 76.84,66.86 76.98,66.31 76.79,65.59 76.90,64.67 76.79,64.63 76.69,63.69 76.88,62.70 76.70,61.76 77.52,61.69 77.47,60.96 77.66,59.73 77.44,59.28 77.50,58.92 77.72,58.23 77.28,57.26 77.80,56.62 77.82,55.98 77.64,55.34 77.89,54.39 78.45,53.79 78.15,52.72 78.33,52.35 79.03,51.87 78.72,50.79 79.22,50.00 79.06,49.10 79.05,48.83 80.05,48.39 80.39,48.16 81.03,48.26 81.02,49.65 82.19,50.34 82.02,50.59 81.74,51.30 81.98,52.58 82.65,53.20 82.19,53.51 82.44,54.83 82.46,55.44 83.01,55.99 83.37,56.51 83.06,57.18 82.77,57.83 82.99,58.66 82.83,60.11 83.06,60.78 83.43,61.41 83.44,62.34 83.67,62.91 83.46,63.65 83.63,64.29 83.50,64.72 84.21,65.59 84.02,65.93 85.10,66.60 84.82,67.67 85.30,68.11 85.03,68.91 84.85,70.00 84.94,70.79 85.16,70.87 85.82,72.12 85.43,72.63 85.73,73.49 85.61,74.30 86.36,74.92 86.41,75.83 86.08,76.48 86.55,77.00 86.07,77.75 86.82,78.22 86.72,79.42 86.82,79.43 86.99,80.31 87.31,81.34 87.01,82.24 87.40,82.50 87.71,83.64 87.89,84.34 87.85,84.90 87.94,85.47 88.39,86.03 87.81,87.03 88.28,87.60 88.50,88.06 88.32,88.63 88.93,90.00 89.00,90.07 89.36,91.35 89.13,91.39 89.54,92.59 89.50,92.81 89.69,93.53 89.59,94.33 89.60,95.63 90.02,96.27 89.76,96.64 90.11,97.06 90.06,98.51 90.44,99.13 90.18,99.70 90.68,100.41 90.50,100.69 90.27,101.97 91.11,102.19 91.07,103.00 91.08,104.05 90.94,104.58 90.99,105.19 90.91,105.70 91.22,106.93 91.21,107.51 91.31,108.39 91.51,108.37 91.68,109.75 92.18,110.41 92.18,110.49 92.19,111.46 92.85,111.93 92.39,113.17 92.42,113.98 92.70,114.35 93.13,115.33 92.80,115.99 93.03,116.60 93.05,117.36 93.32,117.62 93.34,118.43 93.72,119.67 94.09,119.89 94.53,120.45 94.06,121.79 94.79,122.29 94.95,122.50 95.04,123.73 94.99,124.56 94.68,124.76 94.92,125.70 95.47,126.46 95.53,127.34 96.13,128.06 95.70,128.29 96.06,129.08 96.56,129.76 96.81,130.59 96.82,131.60 97.50,131.90 97.24,133.24 97.34,133.19 97.54,134.55 98.19,135.35 98.33,135.30 98.51,136.51 98.91,136.71 99.23,137.64 99.55,138.29 99.71,138.62 100.56,139.85 100.60,140.03 100.84,141.05 101.82,141.49 102.38,142.02 102.24,142.59 103.08,143.08 103.68,143.12 103.95,144.24 104.21,144.13 104.75,144.83 105.65,145.15 106.51,145.34 106.98,146.04 107.84,146.57 108.85,146.31 109.07,146.83 109.94,146.99 110.89,147.16 111.28,147.40 112.31,148.08 113.11,147.80 113.61,148.24 113.81,148.51 115.19,148.00 115.96,148.64 116.42,148.54 116.87,148.23 117.76,148.96 118.27,148.73 119.05,148.99 120.31,149.23 120.50,148.93 120.99,149.11 122.39,149.44 122.49,149.20 123.22,149.27 124.61,149.24 125.28,149.86 125.96,149.28 126.74,149.87 127.51,149.15 127.41,149.39 128.53,149.51 128.89,149.69 130.05,149.70 130.63,149.65 131.48,149.27 131.98,149.34 132.41,149.86 133.29,149.53 133.96,149.75 134.53,149.80 135.20,150.07 135.97,149.93 136.98,149.67 137.49,149.63 138.56,149.78 139.08,149.57 139.86,149.52 140.45,149.92 141.20,149.88 141.92,149.58 142.93,149.98 143.45,150.22 143.93,149.73 144.52,149.73 145.22,149.74 145.85,149.89 146.62,149.81 147.62,149.78 148.48,150.18 148.75,150.23 149.34,149.65 150.69,149.61 150.60,150.29 151.30,150.14 152.45,149.81 152.90,150.41 153.73,149.85 154.47,150.25 155.05,149.75 156.15,149.77 156.27,149.71 157.72,150.07 158.22,150.18 159.11,150.02 159.31,150.31 159.74,150.07 161.05,150.25 161.53,150.55 162.19,150.40 162.86,149.90 163.56,150.01 163.97,150.09 164.76,150.24 165.95,150.49 166.77,150.15 167.30,150.62 167.78,150.66 168.25,150.67 169.58,150.74 170.24,150.53 170.62,150.55 171.68,150.45 172.18,150.74 172.61,150.29 173.11,150.73 174.29,150.58 174.68,150.21 175.58,150.77 176.18,150.42 177.00,150.50" stroke="#101098" stroke-width="1.0" fill="none" stroke-dasharray="1.8,1.5"/>
<polyline points="120.10,150.69 121.24,150.85 122.20,150.84 122.63,150.47 124.37,150.62 125.34,150.19 126.00,150.30 127.06,150.56 127.64,150.27 128.86,150.83 130.25,150.23 131.28,150.21 132.14,150.20 132.65,150.80 133.82,150.27 135.44,150.80 135.89,150.87 137.09,150.64 137.83,150.85 139.22,150.87 140.39,150.34 140.96,150.23 141.79,150.15 142.92,150.58 143.69,150.64 144.96,150.35 146.35,150.48 146.95,150.48 148.26,150.15 149.48,150.12 150.31,150.78 150.72,150.73 152.01,150.56 152.72,150.14 153.86,150.86 154.88,150.70 156.47,150.85 157.01,150.38 158.15,150.72 158.82,150.70 160.38,150.79 160.77,150.86 161.82,150.37 163.24,150.83 164.03,150.84 165.19,150.35 166.01,150.24 166.83,150.22 168.32,150.90 168.90,150.14 170.56,150.53 171.10,150.29 172.26,150.76 173.15,150.44 173.83,150.83 174.82,150.49 176.47,150.20 177.20,150.50" stroke="#222" stroke-width="0.8" fill="none" />
<line x1="177.20" y1="148.00" x2="177.20" y2="151.00" stroke="#222" stroke-width="0.8" />
<text transform="translate(57.50,13.60) scale(1,1.1)" x="0" y="0" font-size="7.8" text-anchor="start" font-weight="bold" fill="#111" stroke="#111" stroke-width="0.25" >Mila</text>
<line x1="68.60" y1="17.20" x2="68.60" y2="19.50" stroke="#000" stroke-width="1.2" />
<polygon points="65.40,19.00 71.80,19.00 68.60,25.00" fill="#000"/>
<text transform="translate(72.30,33.80) scale(1,1.1)" x="0" y="0" font-size="7.8" text-anchor="start" font-weight="bold" fill="#111" stroke="#111" stroke-width="0.25" >Untreated</text>
<line x1="78.00" y1="36.80" x2="78.00" y2="39.30" stroke="#000" stroke-width="1.2" />
<polygon points="74.80,38.80 81.20,38.80 78.00,44.80" fill="#000"/>
<text transform="translate(91.30,41.90) scale(1,1.1)" x="0" y="0" font-size="7.8" text-anchor="start" font-weight="bold" fill="#111" stroke="#111" stroke-width="0.25" >anti-Fc</text>
<polygon points="84.0,41.0 89.6,44.4 83.8,48.0" fill="#000"/>
<line x1="86.60" y1="42.80" x2="87.70" y2="40.70" stroke="#000" stroke-width="1.1" />
<text transform="translate(102.40,76.40) scale(1,1.1)" x="0" y="0" font-size="7.8" text-anchor="start" font-weight="bold" fill="#111" stroke="#111" stroke-width="0.25" >Mila + anti-Fc</text>
<line x1="117.00" y1="80.90" x2="117.00" y2="84.90" stroke="#000" stroke-width="1.2" />
<polygon points="113.80,84.40 120.20,84.40 117.00,90.40" fill="#000"/>
<text transform="translate(188.90,10.80) scale(1,1.0)" x="0" y="0" font-size="13.2" text-anchor="start" font-weight="bold" fill="#111" stroke="#111" stroke-width="0.25" style="stroke-width:0.45">B</text>
<line x1="232.50" y1="27.40" x2="232.50" y2="149.00" stroke="#a0a0a0" stroke-width="1" />
<line x1="232.50" y1="148.50" x2="372.30" y2="148.50" stroke="#a0a0a0" stroke-width="1" />
<text transform="translate(226.80,31.20) scale(1,1.1)" x="0" y="0" font-size="7.6" text-anchor="end" font-weight="bold" fill="#111" stroke="#111" stroke-width="0.25" >20.0</text>
<line x1="230.50" y1="28.40" x2="232.50" y2="28.40" stroke="#a0a0a0" stroke-width="1" />
<text transform="translate(226.80,43.12) scale(1,1.1)" x="0" y="0" font-size="7.6" text-anchor="end" font-weight="bold" fill="#111" stroke="#111" stroke-width="0.25" >18.0</text>
<line x1="230.50" y1="40.32" x2="232.50" y2="40.32" stroke="#a0a0a0" stroke-width="1" />
<text transform="translate(226.80,55.04) scale(1,1.1)" x="0" y="0" font-size="7.6" text-anchor="end" font-weight="bold" fill="#111" stroke="#111" stroke-width="0.25" >16.0</text>
<line x1="230.50" y1="52.24" x2="232.50" y2="52.24" stroke="#a0a0a0" stroke-width="1" />
<text transform="translate(226.80,66.96) scale(1,1.1)" x="0" y="0" font-size="7.6" text-anchor="end" font-weight="bold" fill="#111" stroke="#111" stroke-width="0.25" >14.0</text>
<line x1="230.50" y1="64.16" x2="232.50" y2="64.16" stroke="#a0a0a0" stroke-width="1" />
<text transform="translate(226.80,78.88) scale(1,1.1)" x="0" y="0" font-size="7.6" text-anchor="end" font-weight="bold" fill="#111" stroke="#111" stroke-width="0.25" >12.0</text>
<line x1="230.50" y1="76.08" x2="232.50" y2="76.08" stroke="#a0a0a0" stroke-width="1" />
<text transform="translate(226.80,90.80) scale(1,1.1)" x="0" y="0" font-size="7.6" text-anchor="end" font-weight="bold" fill="#111" stroke="#111" stroke-width="0.25" >10.0</text>
<line x1="230.50" y1="88.00" x2="232.50" y2="88.00" stroke="#a0a0a0" stroke-width="1" />
<text transform="translate(226.80,102.72) scale(1,1.1)" x="0" y="0" font-size="7.6" text-anchor="end" font-weight="bold" fill="#111" stroke="#111" stroke-width="0.25" >8.0</text>
<line x1="230.50" y1="99.92" x2="232.50" y2="99.92" stroke="#a0a0a0" stroke-width="1" />
<text transform="translate(226.80,114.64) scale(1,1.1)" x="0" y="0" font-size="7.6" text-anchor="end" font-weight="bold" fill="#111" stroke="#111" stroke-width="0.25" >6.0</text>
<line x1="230.50" y1="111.84" x2="232.50" y2="111.84" stroke="#a0a0a0" stroke-width="1" />
<text transform="translate(226.80,126.56) scale(1,1.1)" x="0" y="0" font-size="7.6" text-anchor="end" font-weight="bold" fill="#111" stroke="#111" stroke-width="0.25" >4.0</text>
<line x1="230.50" y1="123.76" x2="232.50" y2="123.76" stroke="#a0a0a0" stroke-width="1" />
<text transform="translate(226.80,138.48) scale(1,1.1)" x="0" y="0" font-size="7.6" text-anchor="end" font-weight="bold" fill="#111" stroke="#111" stroke-width="0.25" >2.0</text>
<line x1="230.50" y1="135.68" x2="232.50" y2="135.68" stroke="#a0a0a0" stroke-width="1" />
<text transform="translate(226.80,150.40) scale(1,1.1)" x="0" y="0" font-size="7.6" text-anchor="end" font-weight="bold" fill="#111" stroke="#111" stroke-width="0.25" >0.0</text>
<line x1="230.50" y1="147.60" x2="232.50" y2="147.60" stroke="#a0a0a0" stroke-width="1" />
<text transform="translate(205.10,89.20) rotate(-90) scale(1,1.06)" x="0" y="0" font-size="6.7" text-anchor="middle" font-weight="bold" fill="#111" stroke="#111" stroke-width="0.25">CD74-FITC MFI</text>
<polyline points="241.70,122.27 280.50,130.91 319.30,123.40 357.60,41.51" stroke="#aaa" stroke-width="0.8" fill="none" stroke-dasharray="1,1"/>
<polyline points="241.70,134.07 280.50,134.19 319.30,132.28 357.60,93.78" stroke="#aaa" stroke-width="0.8" fill="none" stroke-dasharray="1,1"/>
<polyline points="241.70,138.06 280.50,138.66 319.30,135.68 357.60,109.99" stroke="#aaa" stroke-width="0.8" fill="none" stroke-dasharray="1,1"/>
<polyline points="241.70,138.66 280.50,140.45 319.30,136.87 357.60,113.93" stroke="#aaa" stroke-width="0.8" fill="none" stroke-dasharray="1,1"/>
<polyline points="241.70,140.45 280.50,141.64 319.30,138.66 357.60,115.48" stroke="#aaa" stroke-width="0.8" fill="none" stroke-dasharray="1,1"/>
<polyline points="241.70,141.64 280.50,142.83 319.30,141.22 357.60,127.81" stroke="#aaa" stroke-width="0.8" fill="none" stroke-dasharray="1,1"/>
<polyline points="241.70,142.83 280.50,144.02 319.30,142.83 357.60,132.88" stroke="#aaa" stroke-width="0.8" fill="none" stroke-dasharray="1,1"/>
<polyline points="241.70,144.02 280.50,144.62 319.30,144.08 357.60,138.18" stroke="#aaa" stroke-width="0.8" fill="none" stroke-dasharray="1,1"/>
<polyline points="241.70,144.92 280.50,145.22 319.30,144.62 357.60,139.20" stroke="#aaa" stroke-width="0.8" fill="none" stroke-dasharray="1,1"/>
<circle cx="241.70" cy="122.27" r="1.2" fill="#000"/>
<circle cx="280.50" cy="130.91" r="1.2" fill="#000"/>
<circle cx="319.30" cy="123.40" r="1.2" fill="#000"/>
<circle cx="357.60" cy="41.51" r="1.2" fill="#000"/>
<circle cx="241.70" cy="134.07" r="1.2" fill="#000"/>
<circle cx="280.50" cy="134.19" r="1.2" fill="#000"/>
<circle cx="319.30" cy="132.28" r="1.2" fill="#000"/>
<circle cx="357.60" cy="93.78" r="1.2" fill="#000"/>
<circle cx="241.70" cy="138.06" r="1.2" fill="#000"/>
<circle cx="280.50" cy="138.66" r="1.2" fill="#000"/>
<circle cx="319.30" cy="135.68" r="1.2" fill="#000"/>
<circle cx="357.60" cy="109.99" r="1.2" fill="#000"/>
<circle cx="241.70" cy="138.66" r="1.2" fill="#000"/>
<circle cx="280.50" cy="140.45" r="1.2" fill="#000"/>
<circle cx="319.30" cy="136.87" r="1.2" fill="#000"/>
<circle cx="357.60" cy="113.93" r="1.2" fill="#000"/>
<circle cx="241.70" cy="140.45" r="1.2" fill="#000"/>
<circle cx="280.50" cy="141.64" r="1.2" fill="#000"/>
<circle cx="319.30" cy="138.66" r="1.2" fill="#000"/>
<circle cx="357.60" cy="115.48" r="1.2" fill="#000"/>
<circle cx="241.70" cy="141.64" r="1.2" fill="#000"/>
<circle cx="280.50" cy="142.83" r="1.2" fill="#000"/>
<circle cx="319.30" cy="141.22" r="1.2" fill="#000"/>
<circle cx="357.60" cy="127.81" r="1.2" fill="#000"/>
<circle cx="241.70" cy="142.83" r="1.2" fill="#000"/>
<circle cx="280.50" cy="144.02" r="1.2" fill="#000"/>
<circle cx="319.30" cy="142.83" r="1.2" fill="#000"/>
<circle cx="357.60" cy="132.88" r="1.2" fill="#000"/>
<circle cx="241.70" cy="144.02" r="1.2" fill="#000"/>
<circle cx="280.50" cy="144.62" r="1.2" fill="#000"/>
<circle cx="319.30" cy="144.08" r="1.2" fill="#000"/>
<circle cx="357.60" cy="138.18" r="1.2" fill="#000"/>
<circle cx="241.70" cy="144.92" r="1.2" fill="#000"/>
<circle cx="280.50" cy="145.22" r="1.2" fill="#000"/>
<circle cx="319.30" cy="144.62" r="1.2" fill="#000"/>
<circle cx="357.60" cy="139.20" r="1.2" fill="#000"/>
<polyline points="241.70,139.43 280.50,142.24 319.30,136.57 357.60,117.50" stroke="#000" stroke-width="2.0" fill="none" />
<text transform="translate(225.00,161.30) scale(1,1.1)" x="0" y="0" font-size="7.9" text-anchor="start" font-weight="bold" fill="#111" stroke="#111" stroke-width="0.25" >Untreated</text>
<text transform="translate(271.20,161.30) scale(1,1.1)" x="0" y="0" font-size="7.9" text-anchor="start" font-weight="bold" fill="#111" stroke="#111" stroke-width="0.25" >Mila</text>
<text transform="translate(304.30,161.30) scale(1,1.1)" x="0" y="0" font-size="7.9" text-anchor="start" font-weight="bold" fill="#111" stroke="#111" stroke-width="0.25" >anti-Fc</text>
<text transform="translate(348.10,161.30) scale(1,1.1)" x="0" y="0" font-size="7.9" text-anchor="start" font-weight="bold" fill="#111" stroke="#111" stroke-width="0.25" >Mila</text>
<text transform="translate(357.00,170.40) scale(1,1.1)" x="0" y="0" font-size="7.9" text-anchor="middle" font-weight="bold" fill="#111" stroke="#111" stroke-width="0.25" >+</text>
<text transform="translate(342.70,178.10) scale(1,1.1)" x="0" y="0" font-size="7.9" text-anchor="start" font-weight="bold" fill="#111" stroke="#111" stroke-width="0.25" >anti-Fc</text>
<line x1="411.80" y1="25.40" x2="411.80" y2="149.00" stroke="#a0a0a0" stroke-width="1.2" />
<line x1="411.80" y1="148.50" x2="510.00" y2="148.50" stroke="#a0a0a0" stroke-width="1" />
<text transform="translate(407.10,29.00) scale(1,1.1)" x="0" y="0" font-size="7.6" text-anchor="end" font-weight="bold" fill="#111" stroke="#111" stroke-width="0.25" >22.0</text>
<line x1="409.80" y1="26.20" x2="411.80" y2="26.20" stroke="#a0a0a0" stroke-width="1" />
<text transform="translate(407.10,40.04) scale(1,1.1)" x="0" y="0" font-size="7.6" text-anchor="end" font-weight="bold" fill="#111" stroke="#111" stroke-width="0.25" >20.0</text>
<line x1="409.80" y1="37.24" x2="411.80" y2="37.24" stroke="#a0a0a0" stroke-width="1" />
<text transform="translate(407.10,51.09) scale(1,1.1)" x="0" y="0" font-size="7.6" text-anchor="end" font-weight="bold" fill="#111" stroke="#111" stroke-width="0.25" >18.0</text>
<line x1="409.80" y1="48.29" x2="411.80" y2="48.29" stroke="#a0a0a0" stroke-width="1" />
<text transform="translate(407.10,62.13) scale(1,1.1)" x="0" y="0" font-size="7.6" text-anchor="end" font-weight="bold" fill="#111" stroke="#111" stroke-width="0.25" >16.0</text>
<line x1="409.80" y1="59.33" x2="411.80" y2="59.33" stroke="#a0a0a0" stroke-width="1" />
<text transform="translate(407.10,73.18) scale(1,1.1)" x="0" y="0" font-size="7.6" text-anchor="end" font-weight="bold" fill="#111" stroke="#111" stroke-width="0.25" >14.0</text>
<line x1="409.80" y1="70.38" x2="411.80" y2="70.38" stroke="#a0a0a0" stroke-width="1" />
<text transform="translate(407.10,84.22) scale(1,1.1)" x="0" y="0" font-size="7.6" text-anchor="end" font-weight="bold" fill="#111" stroke="#111" stroke-width="0.25" >12.0</text>
<line x1="409.80" y1="81.42" x2="411.80" y2="81.42" stroke="#a0a0a0" stroke-width="1" />
<text transform="translate(407.10,95.27) scale(1,1.1)" x="0" y="0" font-size="7.6" text-anchor="end" font-weight="bold" fill="#111" stroke="#111" stroke-width="0.25" >10.0</text>
<line x1="409.80" y1="92.47" x2="411.80" y2="92.47" stroke="#a0a0a0" stroke-width="1" />
<text transform="translate(407.10,106.31) scale(1,1.1)" x="0" y="0" font-size="7.6" text-anchor="end" font-weight="bold" fill="#111" stroke="#111" stroke-width="0.25" >8.0</text>
<line x1="409.80" y1="103.52" x2="411.80" y2="103.52" stroke="#a0a0a0" stroke-width="1" />
<text transform="translate(407.10,117.36) scale(1,1.1)" x="0" y="0" font-size="7.6" text-anchor="end" font-weight="bold" fill="#111" stroke="#111" stroke-width="0.25" >6.0</text>
<line x1="409.80" y1="114.56" x2="411.80" y2="114.56" stroke="#a0a0a0" stroke-width="1" />
<text transform="translate(407.10,128.41) scale(1,1.1)" x="0" y="0" font-size="7.6" text-anchor="end" font-weight="bold" fill="#111" stroke="#111" stroke-width="0.25" >4.0</text>
<line x1="409.80" y1="125.61" x2="411.80" y2="125.61" stroke="#a0a0a0" stroke-width="1" />
<text transform="translate(407.10,139.45) scale(1,1.1)" x="0" y="0" font-size="7.6" text-anchor="end" font-weight="bold" fill="#111" stroke="#111" stroke-width="0.25" >2.0</text>
<line x1="409.80" y1="136.65" x2="411.80" y2="136.65" stroke="#a0a0a0" stroke-width="1" />
<text transform="translate(407.10,150.50) scale(1,1.1)" x="0" y="0" font-size="7.6" text-anchor="end" font-weight="bold" fill="#111" stroke="#111" stroke-width="0.25" >0.0</text>
<line x1="409.80" y1="147.69" x2="411.80" y2="147.69" stroke="#a0a0a0" stroke-width="1" />
<text transform="translate(384.10,88.00) rotate(-90) scale(1,1.06)" x="0" y="0" font-size="7.5" text-anchor="middle" font-weight="bold" fill="#111" stroke="#111" stroke-width="0.25">CD20-PE MFI</text>
<polyline points="422.50,33.44 464.60,38.68 507.40,57.72" stroke="#aaa" stroke-width="0.8" fill="none" stroke-dasharray="1,1"/>
<polyline points="422.50,71.52 464.60,70.42 507.40,95.81" stroke="#aaa" stroke-width="0.8" fill="none" stroke-dasharray="1,1"/>
<polyline points="422.50,72.08 464.60,71.52 507.40,77.60" stroke="#aaa" stroke-width="0.8" fill="none" stroke-dasharray="1,1"/>
<polyline points="422.50,78.70 464.60,77.04 507.40,81.46" stroke="#aaa" stroke-width="0.8" fill="none" stroke-dasharray="1,1"/>
<polyline points="422.50,101.33 464.60,99.68 507.40,105.75" stroke="#aaa" stroke-width="0.8" fill="none" stroke-dasharray="1,1"/>
<polyline points="422.50,120.65 464.60,124.52 507.40,121.20" stroke="#aaa" stroke-width="0.8" fill="none" stroke-dasharray="1,1"/>
<polyline points="422.50,125.07 464.60,125.07 507.40,127.83" stroke="#aaa" stroke-width="0.8" fill="none" stroke-dasharray="1,1"/>
<polyline points="422.50,136.11 464.60,131.69 507.40,132.24" stroke="#aaa" stroke-width="0.8" fill="none" stroke-dasharray="1,1"/>
<polyline points="422.50,142.18 464.60,138.32 507.40,138.32" stroke="#aaa" stroke-width="0.8" fill="none" stroke-dasharray="1,1"/>
<polyline points="422.50,143.28 464.60,141.08 507.40,142.18" stroke="#aaa" stroke-width="0.8" fill="none" stroke-dasharray="1,1"/>
<polyline points="422.50,144.94 464.60,143.84 507.40,143.84" stroke="#aaa" stroke-width="0.8" fill="none" stroke-dasharray="1,1"/>
<circle cx="422.50" cy="33.44" r="1.2" fill="#000"/>
<circle cx="464.60" cy="38.68" r="1.2" fill="#000"/>
<circle cx="507.40" cy="57.72" r="1.2" fill="#000"/>
<circle cx="422.50" cy="71.52" r="1.2" fill="#000"/>
<circle cx="464.60" cy="70.42" r="1.2" fill="#000"/>
<circle cx="507.40" cy="95.81" r="1.2" fill="#000"/>
<circle cx="422.50" cy="72.08" r="1.2" fill="#000"/>
<circle cx="464.60" cy="71.52" r="1.2" fill="#000"/>
<circle cx="507.40" cy="77.60" r="1.2" fill="#000"/>
<circle cx="422.50" cy="78.70" r="1.2" fill="#000"/>
<circle cx="464.60" cy="77.04" r="1.2" fill="#000"/>
<circle cx="507.40" cy="81.46" r="1.2" fill="#000"/>
<circle cx="422.50" cy="101.33" r="1.2" fill="#000"/>
<circle cx="464.60" cy="99.68" r="1.2" fill="#000"/>
<circle cx="507.40" cy="105.75" r="1.2" fill="#000"/>
<circle cx="422.50" cy="120.65" r="1.2" fill="#000"/>
<circle cx="464.60" cy="124.52" r="1.2" fill="#000"/>
<circle cx="507.40" cy="121.20" r="1.2" fill="#000"/>
<circle cx="422.50" cy="125.07" r="1.2" fill="#000"/>
<circle cx="464.60" cy="125.07" r="1.2" fill="#000"/>
<circle cx="507.40" cy="127.83" r="1.2" fill="#000"/>
<circle cx="422.50" cy="136.11" r="1.2" fill="#000"/>
<circle cx="464.60" cy="131.69" r="1.2" fill="#000"/>
<circle cx="507.40" cy="132.24" r="1.2" fill="#000"/>
<circle cx="422.50" cy="142.18" r="1.2" fill="#000"/>
<circle cx="464.60" cy="138.32" r="1.2" fill="#000"/>
<circle cx="507.40" cy="138.32" r="1.2" fill="#000"/>
<circle cx="422.50" cy="143.28" r="1.2" fill="#000"/>
<circle cx="464.60" cy="141.08" r="1.2" fill="#000"/>
<circle cx="507.40" cy="142.18" r="1.2" fill="#000"/>
<circle cx="422.50" cy="144.94" r="1.2" fill="#000"/>
<circle cx="464.60" cy="143.84" r="1.2" fill="#000"/>
<circle cx="507.40" cy="143.84" r="1.2" fill="#000"/>
<polyline points="422.50,114.41 464.60,113.48 507.40,117.89" stroke="#000" stroke-width="2.0" fill="none" />
<text transform="translate(406.90,161.20) scale(1,1.1)" x="0" y="0" font-size="7.9" text-anchor="start" font-weight="bold" fill="#111" stroke="#111" stroke-width="0.25" >Untreated</text>
<text transform="translate(452.30,161.20) scale(1,1.1)" x="0" y="0" font-size="7.9" text-anchor="start" font-weight="bold" fill="#111" stroke="#111" stroke-width="0.25" >anti-Fc</text>
<text transform="translate(497.50,161.20) scale(1,1.1)" x="0" y="0" font-size="7.9" text-anchor="start" font-weight="bold" fill="#111" stroke="#111" stroke-width="0.25" >Mila</text>
<text transform="translate(506.60,170.00) scale(1,1.1)" x="0" y="0" font-size="7.9" text-anchor="middle" font-weight="bold" fill="#111" stroke="#111" stroke-width="0.25" >+</text>
<text transform="translate(493.20,179.20) scale(1,1.1)" x="0" y="0" font-size="7.9" text-anchor="start" font-weight="bold" fill="#111" stroke="#111" stroke-width="0.25" >anti-Fc</text>
<line x1="443.80" y1="9.50" x2="463.00" y2="9.50" stroke="#444" stroke-width="0.9" stroke-dasharray="1,1.8"/>
<text transform="translate(467.20,12.40) scale(1,1.1)" x="0" y="0" font-size="7.8" text-anchor="start" font-weight="bold" fill="#111" stroke="#111" stroke-width="0.25" >CLL patient</text>
<line x1="443.80" y1="19.40" x2="464.60" y2="19.40" stroke="#000" stroke-width="1.6" />
<text transform="translate(467.20,22.20) scale(1,1.1)" x="0" y="0" font-size="7.8" text-anchor="start" font-weight="bold" fill="#111" stroke="#111" stroke-width="0.25" >Average</text>
<text transform="translate(0.40,203.50) scale(1,1.0)" x="0" y="0" font-size="13.2" text-anchor="start" font-weight="bold" fill="#111" stroke="#111" stroke-width="0.25" style="stroke-width:0.45">C</text>
<line x1="42.50" y1="226.90" x2="42.50" y2="328.00" stroke="#a0a0a0" stroke-width="1" />
<line x1="42.50" y1="327.50" x2="200.00" y2="327.50" stroke="#a0a0a0" stroke-width="1" />
<text transform="translate(38.20,231.20) scale(1,1.1)" x="0" y="0" font-size="7.9" text-anchor="end" font-weight="bold" fill="#111" stroke="#111" stroke-width="0.25" >7.0</text>
<line x1="40.50" y1="229.00" x2="42.50" y2="229.00" stroke="#a0a0a0" stroke-width="1" />
<text transform="translate(38.20,245.33) scale(1,1.1)" x="0" y="0" font-size="7.9" text-anchor="end" font-weight="bold" fill="#111" stroke="#111" stroke-width="0.25" >6.0</text>
<line x1="40.50" y1="243.13" x2="42.50" y2="243.13" stroke="#a0a0a0" stroke-width="1" />
<text transform="translate(38.20,259.46) scale(1,1.1)" x="0" y="0" font-size="7.9" text-anchor="end" font-weight="bold" fill="#111" stroke="#111" stroke-width="0.25" >5.0</text>
<line x1="40.50" y1="257.26" x2="42.50" y2="257.26" stroke="#a0a0a0" stroke-width="1" />
<text transform="translate(38.20,273.59) scale(1,1.1)" x="0" y="0" font-size="7.9" text-anchor="end" font-weight="bold" fill="#111" stroke="#111" stroke-width="0.25" >4.0</text>
<line x1="40.50" y1="271.39" x2="42.50" y2="271.39" stroke="#a0a0a0" stroke-width="1" />
<text transform="translate(38.20,287.72) scale(1,1.1)" x="0" y="0" font-size="7.9" text-anchor="end" font-weight="bold" fill="#111" stroke="#111" stroke-width="0.25" >3.0</text>
<line x1="40.50" y1="285.52" x2="42.50" y2="285.52" stroke="#a0a0a0" stroke-width="1" />
<text transform="translate(38.20,301.85) scale(1,1.1)" x="0" y="0" font-size="7.9" text-anchor="end" font-weight="bold" fill="#111" stroke="#111" stroke-width="0.25" >2.0</text>
<line x1="40.50" y1="299.65" x2="42.50" y2="299.65" stroke="#a0a0a0" stroke-width="1" />
<text transform="translate(38.20,315.98) scale(1,1.1)" x="0" y="0" font-size="7.9" text-anchor="end" font-weight="bold" fill="#111" stroke="#111" stroke-width="0.25" >1.0</text>
<line x1="40.50" y1="313.78" x2="42.50" y2="313.78" stroke="#a0a0a0" stroke-width="1" />
<text transform="translate(38.20,330.11) scale(1,1.1)" x="0" y="0" font-size="7.9" text-anchor="end" font-weight="bold" fill="#111" stroke="#111" stroke-width="0.25" >0.0</text>
<line x1="40.50" y1="327.91" x2="42.50" y2="327.91" stroke="#a0a0a0" stroke-width="1" />
<text transform="translate(18.30,279.00) rotate(-90) scale(1,1.06)" x="0" y="0" font-size="7.1" text-anchor="middle" font-weight="bold" fill="#111" stroke="#111" stroke-width="0.25">CD74-FITC MFI</text>
<polyline points="59.60,296.71 117.10,298.13 175.00,244.43" stroke="#c4c4c4" stroke-width="0.9" fill="none" />
<polyline points="59.60,306.61 117.10,308.02 175.00,266.33" stroke="#c4c4c4" stroke-width="0.9" fill="none" />
<polyline points="59.60,308.02 117.10,308.02 175.00,271.28" stroke="#c4c4c4" stroke-width="0.9" fill="none" />
<polyline points="59.60,314.38 117.10,315.51 175.00,288.24" stroke="#c4c4c4" stroke-width="0.9" fill="none" />
<circle cx="59.60" cy="296.71" r="1.2" fill="#000"/>
<circle cx="117.10" cy="298.13" r="1.2" fill="#000"/>
<circle cx="175.00" cy="244.43" r="1.2" fill="#000"/>
<circle cx="59.60" cy="306.61" r="1.2" fill="#000"/>
<circle cx="117.10" cy="308.02" r="1.2" fill="#000"/>
<circle cx="175.00" cy="266.33" r="1.2" fill="#000"/>
<circle cx="59.60" cy="308.02" r="1.2" fill="#000"/>
<circle cx="117.10" cy="308.02" r="1.2" fill="#000"/>
<circle cx="175.00" cy="271.28" r="1.2" fill="#000"/>
<circle cx="59.60" cy="314.38" r="1.2" fill="#000"/>
<circle cx="117.10" cy="315.51" r="1.2" fill="#000"/>
<circle cx="175.00" cy="288.24" r="1.2" fill="#000"/>
<polyline points="59.60,306.61 117.10,308.02 175.00,267.75" stroke="#000" stroke-width="1.8" fill="none" />
<text transform="translate(41.80,341.00) scale(1,1.1)" x="0" y="0" font-size="7.9" text-anchor="start" font-weight="bold" fill="#111" stroke="#111" stroke-width="0.25" >Untreated</text>
<text transform="translate(99.50,341.00) scale(1,1.1)" x="0" y="0" font-size="7.9" text-anchor="start" font-weight="bold" fill="#111" stroke="#111" stroke-width="0.25" >Liposome</text>
<text transform="translate(162.40,341.00) scale(1,1.1)" x="0" y="0" font-size="7.9" text-anchor="start" font-weight="bold" fill="#111" stroke="#111" stroke-width="0.25" >Mila-IL</text>
<line x1="99.30" y1="217.00" x2="119.60" y2="217.00" stroke="#444" stroke-width="0.9" stroke-dasharray="1,1.8"/>
<text transform="translate(123.30,219.50) scale(1,1.1)" x="0" y="0" font-size="7.8" text-anchor="start" font-weight="bold" fill="#111" stroke="#111" stroke-width="0.25" >CLL patient</text>
<line x1="99.30" y1="226.70" x2="121.00" y2="226.70" stroke="#000" stroke-width="1.7" />
<text transform="translate(123.30,229.60) scale(1,1.1)" x="0" y="0" font-size="7.8" text-anchor="start" font-weight="bold" fill="#111" stroke="#111" stroke-width="0.25" >Average</text>
<text transform="translate(228.20,203.00) scale(1,1.0)" x="0" y="0" font-size="13.2" text-anchor="start" font-weight="bold" fill="#111" stroke="#111" stroke-width="0.25" style="stroke-width:0.45">D</text>
<line x1="274.50" y1="212.80" x2="274.50" y2="329.00" stroke="#a0a0a0" stroke-width="1" />
<line x1="272.50" y1="328.50" x2="513.00" y2="328.50" stroke="#a0a0a0" stroke-width="1" />
<text transform="translate(269.60,216.10) scale(1,1.1)" x="0" y="0" font-size="7.6" text-anchor="end" font-weight="bold" fill="#111" stroke="#111" stroke-width="0.25" >60%</text>
<line x1="272.50" y1="213.30" x2="274.50" y2="213.30" stroke="#a0a0a0" stroke-width="1" />
<text transform="translate(269.60,235.28) scale(1,1.1)" x="0" y="0" font-size="7.6" text-anchor="end" font-weight="bold" fill="#111" stroke="#111" stroke-width="0.25" >50%</text>
<line x1="272.50" y1="232.48" x2="274.50" y2="232.48" stroke="#a0a0a0" stroke-width="1" />
<text transform="translate(269.60,254.47) scale(1,1.1)" x="0" y="0" font-size="7.6" text-anchor="end" font-weight="bold" fill="#111" stroke="#111" stroke-width="0.25" >40%</text>
<line x1="272.50" y1="251.67" x2="274.50" y2="251.67" stroke="#a0a0a0" stroke-width="1" />
<text transform="translate(269.60,273.65) scale(1,1.1)" x="0" y="0" font-size="7.6" text-anchor="end" font-weight="bold" fill="#111" stroke="#111" stroke-width="0.25" >30%</text>
<line x1="272.50" y1="270.85" x2="274.50" y2="270.85" stroke="#a0a0a0" stroke-width="1" />
<text transform="translate(269.60,292.83) scale(1,1.1)" x="0" y="0" font-size="7.6" text-anchor="end" font-weight="bold" fill="#111" stroke="#111" stroke-width="0.25" >20%</text>
<line x1="272.50" y1="290.03" x2="274.50" y2="290.03" stroke="#a0a0a0" stroke-width="1" />
<text transform="translate(269.60,312.02) scale(1,1.1)" x="0" y="0" font-size="7.6" text-anchor="end" font-weight="bold" fill="#111" stroke="#111" stroke-width="0.25" >10%</text>
<line x1="272.50" y1="309.22" x2="274.50" y2="309.22" stroke="#a0a0a0" stroke-width="1" />
<text transform="translate(269.60,331.20) scale(1,1.1)" x="0" y="0" font-size="7.6" text-anchor="end" font-weight="bold" fill="#111" stroke="#111" stroke-width="0.25" >0%</text>
<line x1="272.50" y1="328.40" x2="274.50" y2="328.40" stroke="#a0a0a0" stroke-width="1" />
<text transform="translate(245.30,270.40) rotate(-90) scale(1,1.06)" x="0" y="0" font-size="7.8" text-anchor="middle" font-weight="bold" fill="#222" stroke="#222" stroke-width="0.25">% PI Positive</text>
<defs><linearGradient id="bg" x1="0" x2="1" y1="0" y2="0">
<stop offset="0" stop-color="#3c3c3c"/><stop offset="0.35" stop-color="#7c7c7c"/><stop offset="0.75" stop-color="#5a5a5a"/><stop offset="1" stop-color="#3a3a3a"/></linearGradient></defs>
<rect x="281.90" y="320.90" width="20.8" height="7.40" fill="url(#bg)" stroke="#222" stroke-width="0.8"/>
<line x1="292.30" y1="315.50" x2="292.30" y2="325.90" stroke="#888" stroke-width="1" />
<line x1="290.60" y1="315.50" x2="294.00" y2="315.50" stroke="#777" stroke-width="1" />
<line x1="290.60" y1="325.90" x2="294.00" y2="325.90" stroke="#777" stroke-width="1" />
<rect x="325.00" y="320.30" width="20.8" height="8.00" fill="url(#bg)" stroke="#222" stroke-width="0.8"/>
<line x1="335.40" y1="315.20" x2="335.40" y2="325.00" stroke="#888" stroke-width="1" />
<line x1="333.70" y1="315.20" x2="337.10" y2="315.20" stroke="#777" stroke-width="1" />
<line x1="333.70" y1="325.00" x2="337.10" y2="325.00" stroke="#777" stroke-width="1" />
<rect x="365.50" y="319.90" width="20.8" height="8.40" fill="url(#bg)" stroke="#222" stroke-width="0.8"/>
<line x1="375.90" y1="314.60" x2="375.90" y2="324.80" stroke="#888" stroke-width="1" />
<line x1="374.20" y1="314.60" x2="377.60" y2="314.60" stroke="#777" stroke-width="1" />
<line x1="374.20" y1="324.80" x2="377.60" y2="324.80" stroke="#777" stroke-width="1" />
<rect x="406.00" y="260.30" width="20.8" height="68.00" fill="url(#bg)" stroke="#222" stroke-width="0.8"/>
<line x1="416.40" y1="234.70" x2="416.40" y2="284.60" stroke="#888" stroke-width="1" />
<line x1="414.70" y1="234.70" x2="418.10" y2="234.70" stroke="#777" stroke-width="1" />
<line x1="414.70" y1="284.60" x2="418.10" y2="284.60" stroke="#777" stroke-width="1" />
<rect x="445.30" y="320.30" width="20.8" height="8.00" fill="url(#bg)" stroke="#222" stroke-width="0.8"/>
<line x1="455.70" y1="315.10" x2="455.70" y2="325.00" stroke="#888" stroke-width="1" />
<line x1="454.00" y1="315.10" x2="457.40" y2="315.10" stroke="#777" stroke-width="1" />
<line x1="454.00" y1="325.00" x2="457.40" y2="325.00" stroke="#777" stroke-width="1" />
<rect x="484.20" y="280.10" width="20.8" height="48.20" fill="url(#bg)" stroke="#222" stroke-width="0.8"/>
<line x1="494.60" y1="258.00" x2="494.60" y2="300.90" stroke="#888" stroke-width="1" />
<line x1="492.90" y1="258.00" x2="496.30" y2="258.00" stroke="#777" stroke-width="1" />
<line x1="492.90" y1="300.90" x2="496.30" y2="300.90" stroke="#777" stroke-width="1" />
<text transform="translate(273.40,337.10) scale(1,1.1)" x="0" y="0" font-size="7.9" text-anchor="start" font-weight="bold" fill="#111" stroke="#111" stroke-width="0.25" >Untreated</text>
<text transform="translate(318.00,337.10) scale(1,1.1)" x="0" y="0" font-size="7.9" text-anchor="start" font-weight="bold" fill="#111" stroke="#111" stroke-width="0.25" >Liposome</text>
<text transform="translate(364.10,337.10) scale(1,1.1)" x="0" y="0" font-size="7.9" text-anchor="start" font-weight="bold" fill="#111" stroke="#111" stroke-width="0.25" >IgG-IL</text>
<text transform="translate(405.20,337.10) scale(1,1.1)" x="0" y="0" font-size="7.9" text-anchor="start" font-weight="bold" fill="#111" stroke="#111" stroke-width="0.25" >Mila-IL</text>
<text transform="translate(443.20,337.10) scale(1,1.1)" x="0" y="0" font-size="7.9" text-anchor="start" font-weight="bold" fill="#111" stroke="#111" stroke-width="0.25" >anti-Fc</text>
<text transform="translate(485.90,337.10) scale(1,1.1)" x="0" y="0" font-size="7.9" text-anchor="start" font-weight="bold" fill="#111" stroke="#111" stroke-width="0.25" >Mila</text>
<text transform="translate(493.20,346.10) scale(1,1.1)" x="0" y="0" font-size="7.9" text-anchor="middle" font-weight="bold" fill="#111" stroke="#111" stroke-width="0.25" >+</text>
<text transform="translate(480.90,352.00) scale(1,1.1)" x="0" y="0" font-size="7.9" text-anchor="start" font-weight="bold" fill="#111" stroke="#111" stroke-width="0.25" >anti-Fc</text>
<polyline points="378.10,230.60 378.10,221.80 416.30,221.80 416.30,230.30" stroke="#333" stroke-width="1.0" fill="none" />
<text transform="translate(382.2,216.8) scale(1,1.1)" x="0" y="0" font-size="7.8" font-weight="bold" fill="#111" stroke="#111" stroke-width="0.25"><tspan font-style="italic">P</tspan> = .003</text>
</svg></body></html>
